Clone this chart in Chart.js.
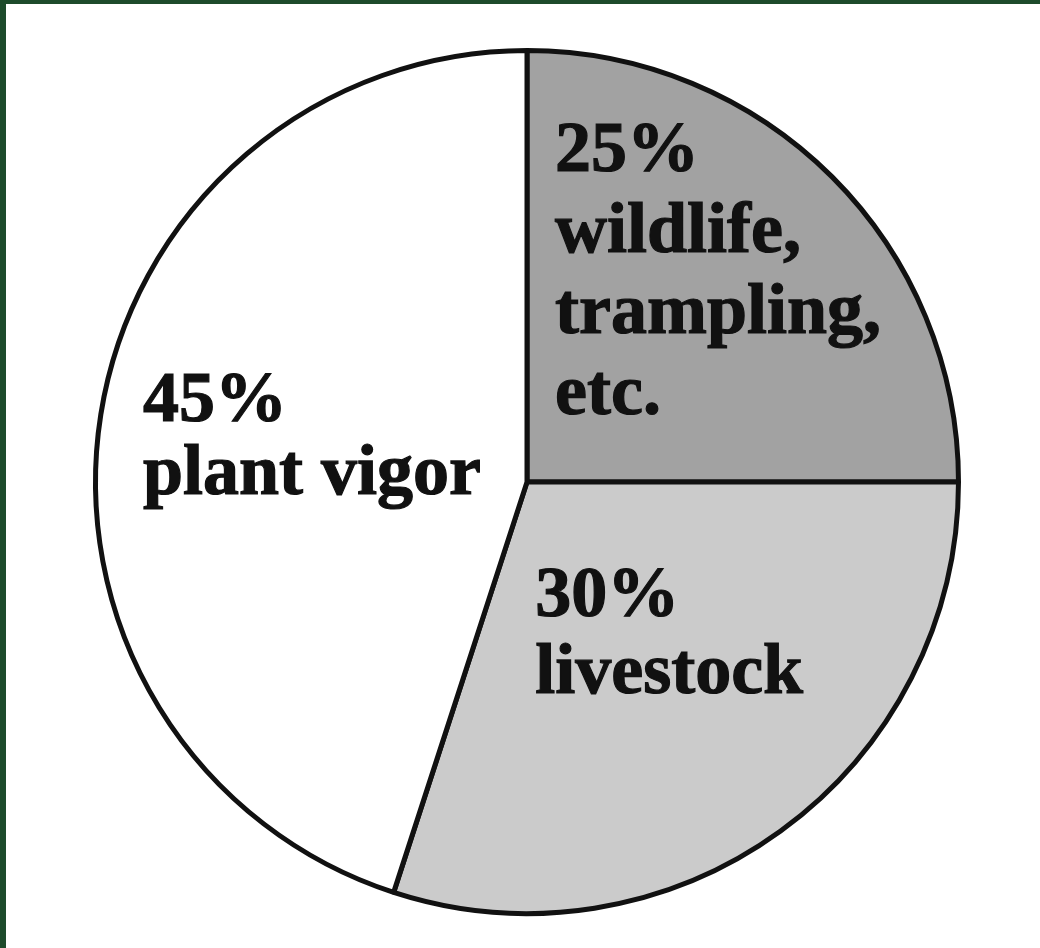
<!DOCTYPE html>
<html>
<head>
<meta charset="utf-8">
<title>Causes</title>
<script src="https://cdn.jsdelivr.net/npm/chart.js@4.4.1/dist/chart.umd.min.js"></script>
<style>
    html, body { margin: 0; padding: 0; }
    body {
        width: 1040px;
        height: 948px;
        background: #ffffff;
        overflow: hidden;
    }
    .frame {
        position: absolute;
        left: 0; top: 0;
        width: 1040px; height: 948px;
        box-sizing: border-box;
        border-top: 4px solid #1d4b2b;
        border-left: 6px solid #1d4b2b;
    }
    #pieChart { position: absolute; left: 0; top: 0; }
</style>
</head>
<body>
<canvas id="pieChart" width="1040" height="948"></canvas>
<div class="frame"></div>

<script>
// ── Data ──
const categories = [
    ['wildlife,', 'trampling,', 'etc.'],
    ['livestock'],
    ['plant vigor']
];
const shares = [25, 30, 45];

// ── Styles ──
const sliceColors = ['#a2a2a2', '#cbcbcb', '#ffffff'];
// label anchor relative to pie centre, in units of the radius
const labelSpots = [
    { dx: 0.065, dy: -0.721, lineH: 81 },
    { dx: 0.019, dy: 0.311, lineH: 77 },
    { dx: -0.89, dy: -0.141, lineH: 73 }
];

// ── Label plugin ──
const sliceLabels = {
    id: 'sliceLabels',
    afterDatasetsDraw(chart) {
        const meta = chart.getDatasetMeta(0);
        const ctx = chart.ctx;
        ctx.save();
        ctx.fillStyle = '#111111';
        ctx.strokeStyle = '#111111';
        ctx.lineWidth = 1.2;
        ctx.font = 'bold 72px "Liberation Serif", "DejaVu Serif", serif';
        ctx.textAlign = 'left';
        ctx.textBaseline = 'alphabetic';
        meta.data.forEach((arc, i) => {
            const spot = labelSpots[i];
            const r = arc.outerRadius;
            const x = arc.x + spot.dx * r;
            let y = arc.y + spot.dy * r;
            const lines = [shares[i] + '%'].concat(categories[i]);
            lines.forEach(line => {
                ctx.fillText(line, x, y);
                ctx.strokeText(line, x, y);
                y += spot.lineH;
            });
        });
        ctx.restore();
    }
};

new Chart(document.getElementById('pieChart'), {
    type: 'pie',
    data: {
        labels: categories.map(c => c.join(' ')),
        datasets: [{
            data: shares,
            backgroundColor: sliceColors,
            borderColor: '#111111',
            borderWidth: 5,
            hoverOffset: 0,
            offset: 0
        }]
    },
    options: {
        responsive: false,
        animation: false,
        layout: {
            padding: { left: 93, right: 79, top: 48, bottom: 32 }
        },
        plugins: {
            legend: { display: false },
            tooltip: { enabled: false }
        }
    },
    plugins: [sliceLabels]
});
</script>
</body>
</html>
